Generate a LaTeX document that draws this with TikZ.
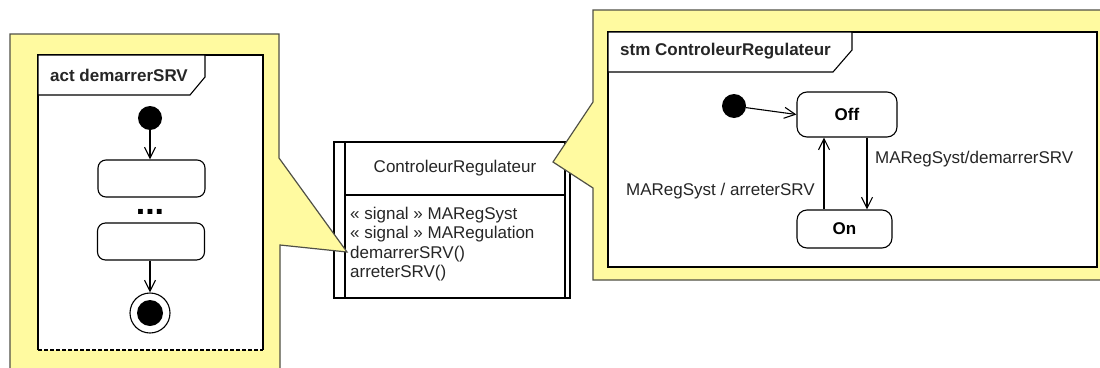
\documentclass[tikz,border=0pt]{standalone}
\usepackage{fontspec}
\setmainfont{Liberation Sans}
\usetikzlibrary{arrows.meta,positioning,calc}
\definecolor{calloutyellow}{RGB}{255,250,160}
\definecolor{calloutedge}{RGB}{80,80,70}
\newcommand{\labelfont}{\fontsize{17}{20}\selectfont}
\tikzset{
  callout/.style={fill=calloutyellow,draw=calloutedge,line width=1.2pt,line join=miter},
  frame/.style={fill=white,draw=black,line width=1.1pt},
  umlline/.style={draw=black,line width=1.1pt},
  arr/.style={draw=black,line width=1.1pt,-{Straight Barb[length=11pt,width=11pt,line width=1.1pt]}},
  actbox/.style={draw=black,line width=1.1pt,rounded corners=8pt,minimum width=107pt,minimum height=37pt,inner sep=0pt},
  statebox/.style={draw=black,line width=1.1pt,rounded corners=10pt,inner sep=0pt,font=\labelfont\bfseries},
  txt/.style={inner sep=0pt,text=black!85},
  every node/.style={font=\labelfont}
}
\begin{document}
\begin{tikzpicture}[x=1pt,y=-1pt]
\useasboundingbox (0,0) rectangle (1100,367);
\clip (0,0) rectangle (1100,367);

% ---------- class box ----------
\draw[umlline,fill=white] (334,142) rectangle (570,298);
\draw[umlline] (345,142) -- (345,298);
\draw[umlline] (565,142) -- (565,298);
\draw[umlline] (345,195) -- (565,195);
\node[txt] (cname) at (455,168) {ControleurRegulateur};
\node[txt,anchor=base west] (op1) at (350,219) {« signal » MARegSyst};
\node[txt,anchor=base west] (op2) at (350,238.5) {« signal » MARegulation};
\node[txt,anchor=base west] (op3) at (350,258) {demarrerSRV()};
\node[txt,anchor=base west] (op4) at (350,277.5) {arreterSRV()};

% ---------- activity callout ----------
\path[callout] (10,372) -- (10,34) -- (279,34) -- (279,158) -- (347,252) -- (280,245) -- (280,372);
\fill[white] (38,55) rectangle (263,350);
\draw[umlline] (38,350) -- (38,55) -- (263,55) -- (263,350);
\draw[umlline,dash pattern=on 4pt off 2pt] (38,350) -- (263,350);
\draw[frame] (38,55) -- (205,55) -- (205,77) -- (190,95) -- (38,95) -- cycle;
\node[txt,anchor=west,font=\labelfont\bfseries] (actlbl) at (50,75) {act demarrerSRV};

\node[circle,fill=black,minimum size=24pt,inner sep=0pt] (ainit) at (150,118) {};
\node[actbox] (a1) at (151.5,178.5) {};
\node[txt,anchor=base,text=black,font=\fontsize{34}{36}\selectfont\bfseries] (adots) at (150,214.5) {...};
\node[actbox] (a2) at (151,241.5) {};
\node[circle,draw=black,line width=1.1pt,fill=white,minimum size=40pt,inner sep=0pt] (afin) at (150,313) {};
\node[circle,fill=black,minimum size=26pt,inner sep=0pt] at (afin.center) {};
\draw[arr] (ainit) -- (ainit.center |- a1.north);
\draw[arr] (a2.south -| afin) -- (afin.north);

% ---------- state machine callout ----------
\path[callout] (1110,10) -- (593,10) -- (593,102) -- (553,162) -- (593,188) -- (593,280) -- (1110,280);
\draw[frame] (608,32) rectangle (1097,267);
\draw[frame] (608,32) -- (852,32) -- (852,50) -- (833,72) -- (608,72) -- cycle;
\node[txt,anchor=west,font=\labelfont\bfseries] (stmlbl) at (620,51) {stm ControleurRegulateur};

\node[circle,fill=black,minimum size=24pt,inner sep=0pt] (sinit) at (734,106) {};
\node[statebox,minimum width=100pt,minimum height=45pt] (off) at (847,114.5) {Off};
\node[statebox,minimum width=95pt,minimum height=38pt] (on) at (844.5,229) {On};
\coordinate (upx) at (824,0);
\coordinate (downx) at (867,0);
\draw[arr] (sinit) -- (off.west);
\draw[arr] (on.north -| upx) -- (off.south -| upx);
\draw[arr] (off.south -| downx) -- (on.north -| downx);
\node[txt,anchor=west] (lbldown) at (875,159) {MARegSyst/demarrerSRV};
\node[txt,anchor=east] (lblup) at (815,191) {MARegSyst / arreterSRV};
\end{tikzpicture}
\end{document}
